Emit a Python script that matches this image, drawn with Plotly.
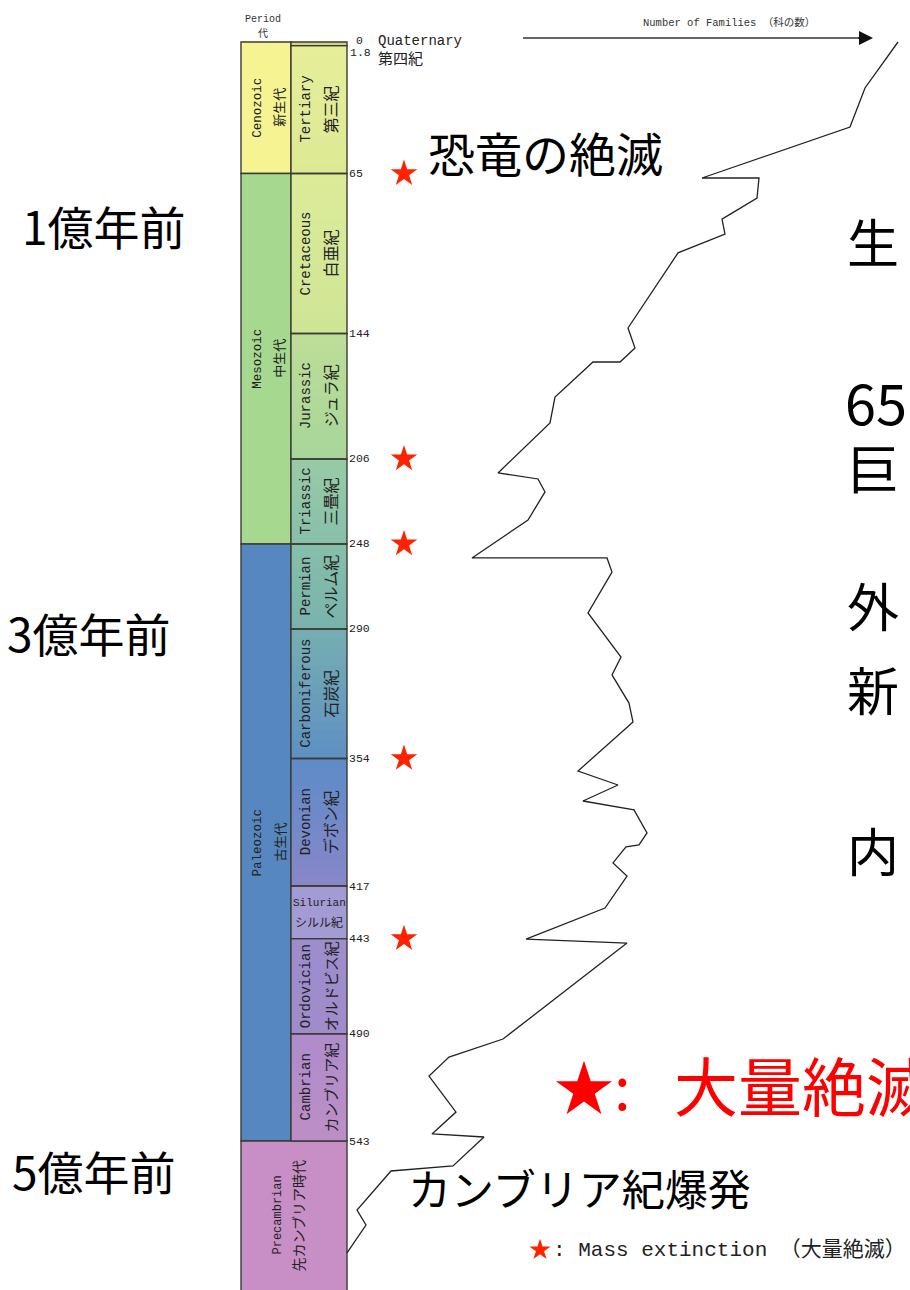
import plotly.graph_objects as go

# ---------------- data ----------------
era_names_en = ["Cenozoic", "Mesozoic", "Paleozoic", "Precambrian"]
era_names_ja = ["新生代", "中生代", "古生代", "先カンブリア時代"]
era_start_ma = [0, 65, 248, 543]
era_end_ma = [65, 248, 543, 4600]
era_colors = ["#F6F393", "#A6D88F", "#5787C0", "#C78FC6"]

period_names_en = ["Quaternary", "Tertiary", "Cretaceous", "Jurassic", "Triassic", "Permian",
                   "Carboniferous", "Devonian", "Silurian", "Ordovician", "Cambrian"]
period_names_ja = ["第四紀", "第三紀", "白亜紀", "ジュラ紀", "三畳紀", "ペルム紀",
                   "石炭紀", "デボン紀", "シルル紀", "オルドビス紀", "カンブリア紀"]
period_start_ma = [0, 1.8, 65, 144, 206, 248, 290, 354, 417, 443, 490]
period_end_ma = [1.8, 65, 144, 206, 248, 290, 354, 417, 443, 490, 543]
period_color_top = ["#D3D57C", "#E6EE9A", "#DCEB98", "#BDDE98", "#98CBA6", "#86BFA9",
                    "#76AEB1", "#5D8BC8", "#A39BD4", "#9C8DCC", "#AE8CCB"]
period_color_bottom = ["#D3D57C", "#DEE994", "#CFE596", "#A8D59A", "#88BFAB", "#79B3AE",
                       "#5E90C4", "#8987C9", "#A39BD4", "#A18CCB", "#BD8EC6"]

boundary_ma = [0, 1.8, 65, 144, 206, 248, 290, 354, 417, 443, 490, 543]
boundary_labels = ["0", "1.8", "65", "144", "206", "248", "290", "354", "417", "443", "490", "543"]

mass_extinction_ma = [65, 206, 248, 354, 443]

# number-of-families curve (age in Ma, relative number of families)
family_age_ma = [0, 22.7, 42.0, 67.2, 67.2, 77.1, 87.5, 94.9, 104.2, 141.3, 151.2, 158.1, 158.1,
                 175.4, 188.2, 212.9, 215.9, 222.3, 236.2, 254.9, 254.9, 261.9, 282.1, 303.9,
                 312.7, 326.6, 336.0, 360.2, 367.1, 375.0, 379.4, 390.8, 396.7, 397.7, 405.6,
                 412.1, 427.9, 443.2, 445.2, 492.6, 501.5, 510.9, 528.7, 539.5, 541.0, 555.3,
                 557.8, 577.1, 584.5, 598.3]
family_rel = [898, 865, 850, 702, 759, 757, 722, 725, 678, 628, 635, 620, 593,
              555, 550, 498, 538, 545, 528, 472, 607, 612, 588, 621,
              612, 629, 633, 578, 618, 583, 634, 647, 639, 626, 613,
              627, 605, 526, 627, 503, 449, 429, 456, 432, 484, 453,
              391, 357, 366, 347]

# ---------------- layout helpers ----------------
W, H = 910, 1290
Y0_PX, PX_PER_MA = 42.0, 2.024
AGE_TOP = -Y0_PX / PX_PER_MA
AGE_BOTTOM = (H - Y0_PX) / PX_PER_MA

ERA_X0, ERA_X1, PER_X1 = 241, 291, 347
BORDER = "#3c3c34"
MONO = "Liberation Mono, Noto Sans CJK JP"
SANS = "Noto Sans CJK JP"


def hex_mix(c1, c2, t):
    a = [int(c1[i:i + 2], 16) for i in (1, 3, 5)]
    b = [int(c2[i:i + 2], 16) for i in (1, 3, 5)]
    return "#%02X%02X%02X" % tuple(round(a[k] + (b[k] - a[k]) * t) for k in range(3))


def pxy(ypx):
    return 1 - ypx / H


def pxx(xpx):
    return xpx / W


def ptext(text, x, y, size, family=SANS, color="#000", xanchor="left"):
    return dict(x=pxx(x), y=pxy(y), xref="paper", yref="paper", text=text,
                xanchor=xanchor, yanchor="middle", showarrow=False,
                font=dict(family=family, size=size, color=color))


fig = go.Figure()
shapes = []
annotations = []

# era boxes
for i, name in enumerate(era_names_en):
    x1 = PER_X1 if name == "Precambrian" else ERA_X1
    shapes.append(dict(type="rect", xref="x", yref="y", x0=ERA_X0, x1=x1,
                       y0=era_start_ma[i], y1=era_end_ma[i],
                       fillcolor=era_colors[i], line=dict(color=BORDER, width=1.4), layer="below"))

# period boxes with gentle vertical gradients
N_SLICES = 14
for i in range(len(period_names_en)):
    s, e = period_start_ma[i], period_end_ma[i]
    for k in range(N_SLICES):
        t0 = k / N_SLICES
        t1 = (k + 1) / N_SLICES
        y1 = min(e, s + (e - s) * t1 + 1.0)
        shapes.append(dict(type="rect", xref="x", yref="y", x0=ERA_X1, x1=PER_X1,
                           y0=s + (e - s) * t0, y1=y1,
                           fillcolor=hex_mix(period_color_top[i], period_color_bottom[i], (t0 + t1) / 2),
                           line=dict(width=0), layer="below"))
for i in range(len(period_names_en)):
    shapes.append(dict(type="rect", xref="x", yref="y", x0=ERA_X1, x1=PER_X1,
                       y0=period_start_ma[i], y1=period_end_ma[i],
                       fillcolor="rgba(0,0,0,0)", line=dict(color=BORDER, width=1.4), layer="below"))

# era labels (rotated)
for i, name in enumerate(era_names_en):
    if name == "Precambrian":
        mid = (543 + AGE_BOTTOM) / 2
        xe, xj, fe, fj = 278, 298, 12, 14
    else:
        mid = (era_start_ma[i] + era_end_ma[i]) / 2
        xe, xj, fe, fj = 258, 279, 12.5, 13
    annotations.append(dict(x=xe, y=mid, xref="x", yref="y", text=name, textangle=-90,
                            xanchor="center", yanchor="middle",
                            showarrow=False, font=dict(family=MONO, size=fe, color="#222")))
    annotations.append(dict(x=xj, y=mid, xref="x", yref="y", text=era_names_ja[i], textangle=-90,
                            xanchor="center", yanchor="middle",
                            showarrow=False, font=dict(family=SANS, size=fj, color="#222")))

# period labels
for i, name in enumerate(period_names_en):
    mid = (period_start_ma[i] + period_end_ma[i]) / 2
    if name == "Quaternary":
        annotations.append(ptext(name, 376, 41, 14, MONO, "#222"))
        annotations.append(ptext(period_names_ja[i], 376, 57, 15, SANS, "#222"))
        continue
    if name == "Silurian":
        annotations.append(dict(x=319, y=mid, xref="x", yref="y", text=name, yshift=9,
                                xanchor="center", yanchor="middle",
                                showarrow=False, font=dict(family=MONO, size=11, color="#222")))
        annotations.append(dict(x=319, y=mid, xref="x", yref="y", text=period_names_ja[i], yshift=-9,
                                xanchor="center", yanchor="middle",
                                showarrow=False, font=dict(family=SANS, size=12, color="#222")))
        continue
    fj = 15 if name in ("Ordovician", "Cambrian") else 16
    annotations.append(dict(x=306, y=mid, xref="x", yref="y", text=name, textangle=-90,
                            xanchor="center", yanchor="middle",
                            showarrow=False, font=dict(family=MONO, size=14, color="#222")))
    annotations.append(dict(x=330, y=mid, xref="x", yref="y", text=period_names_ja[i], textangle=-90,
                            xanchor="center", yanchor="middle",
                            showarrow=False, font=dict(family=SANS, size=fj, color="#222")))

# boundary age labels
for age, lab in zip(boundary_ma, boundary_labels):
    xs, ys = 347, 0
    if lab == "0":
        xs, ys = 354, 2
    elif lab == "1.8":
        xs, ys = 348, -7
    annotations.append(dict(x=xs, y=age, xref="x", yref="y", text=lab, xanchor="left",
                            yanchor="middle", yshift=ys, showarrow=False,
                            font=dict(family=MONO, size=11.5, color="#222")))

# header
annotations.append(ptext("Period", 263, 19, 10, MONO, "#333", "center"))
annotations.append(ptext("代", 263, 33, 10, SANS, "#333", "center"))

# number-of-families arrow
shapes.append(dict(type="line", xref="paper", yref="paper", x0=pxx(523), x1=pxx(862),
                   y0=pxy(38), y1=pxy(38), line=dict(color="#666666", width=2)))
annotations.append(dict(x=pxx(873), y=pxy(38), xref="paper", yref="paper", text="",
                        showarrow=True, ax=-16, ay=0, arrowhead=2, arrowsize=1.4,
                        arrowwidth=2, arrowcolor="#111111"))
annotations.append(ptext("Number of Families （科の数）", 641, 23, 10.5, MONO, "#333"))

# families curve
fig.add_trace(go.Scatter(x=family_rel, y=family_age_ma, mode="lines",
                         line=dict(color="#222222", width=1.3), hoverinfo="skip", showlegend=False))

# mass-extinction stars
fig.add_trace(go.Scatter(x=[404] * len(mass_extinction_ma), y=mass_extinction_ma, mode="markers",
                         marker=dict(symbol="star", size=20, color="#FF2200", line=dict(width=0)),
                         hoverinfo="skip", showlegend=False))

# legend at bottom
fig.add_trace(go.Scatter(x=[540], y=[(1250 - Y0_PX) / PX_PER_MA], mode="markers",
                         marker=dict(symbol="star", size=16, color="#FF2200", line=dict(width=0)),
                         hoverinfo="skip", showlegend=False))
annotations.append(ptext(": Mass extinction （大量絶滅）", 551, 1250, 21, MONO, "#222"))

# large explanatory text
big = [
    ("恐竜の絶滅", 426, 152, 47, "#000"),
    ("カンブリア紀爆発", 406, 1187, 43, "#000"),
    ("1億年前", 20, 225, 46, "#000"),
    ("3億年前", 5, 632, 46, "#000"),
    ("5億年前", 10, 1170, 46, "#000"),
    ("生", 845, 240, 52, "#000"),
    ("65", 843, 400, 56, "#000"),
    ("巨", 845, 466, 52, "#000"),
    ("外", 845, 604, 52, "#000"),
    ("新", 845, 688, 52, "#000"),
    ("内", 845, 850, 52, "#000"),
    ("★:", 552, 1083, 60, "#FF0000"),
    ("大量絶滅", 672, 1083, 64, "#FF0000"),
]
for txt, x, y, s, c in big:
    annotations.append(ptext(txt, x, y, s, SANS, c))

fig.update_layout(
    width=W, height=H, margin=dict(l=0, r=0, t=0, b=0),
    paper_bgcolor="white", plot_bgcolor="white",
    xaxis=dict(range=[0, W], visible=False, fixedrange=True),
    yaxis=dict(range=[AGE_BOTTOM, AGE_TOP], visible=False, fixedrange=True),
    shapes=shapes, annotations=annotations,
    font=dict(family=SANS),
    showlegend=False,
)

fig.write_html("out.html", config={"displayModeBar": False},
               post_script="document.body.style.margin='0';document.body.style.overflow='hidden';")
